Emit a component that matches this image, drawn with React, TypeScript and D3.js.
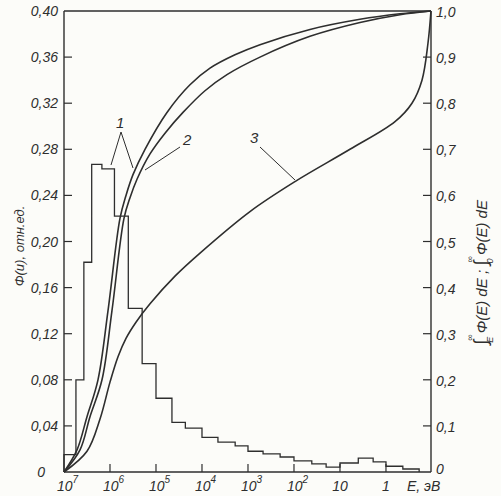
import React from "react";
import * as d3 from "d3";

// histogram bin edges (eV, decreasing) and heights, left axis
const binEdges = [1e7, 5.5e6, 3.7e6, 2.5e6, 1.5e6, 8e5, 4e5, 2e5, 1e5, 4.5e4, 2.3e4, 1e4, 4.5e3, 1.9e3, 1e3, 470, 200, 100, 41, 20, 10, 4, 1.9, 1, 0.43, 0.19];
const binValues = [0.015, 0.08, 0.182, 0.267, 0.263, 0.222, 0.142, 0.094, 0.064, 0.043, 0.038, 0.03, 0.026, 0.0226, 0.018, 0.0157, 0.013, 0.0096, 0.007, 0.0043, 0.0078, 0.012, 0.0087, 0.005, 0.0026];

// cumulative curves: log10(E) and fraction, right axis
const curve1LogE = [7, 6.717, 6.5, 6.261, 6.043, 5.783, 5.652, 5.5, 5.239, 4.761, 4.261, 3.826, 3.283, 2.739, 1.652, 0.565, -0.304, -0.978];
const curve1Val = [0, 0.048, 0.12, 0.2, 0.35, 0.55, 0.6, 0.645, 0.7, 0.78, 0.84, 0.876, 0.905, 0.927, 0.96, 0.982, 0.994, 1.0];
const curve2LogE = [7, 6.652, 6.435, 6.174, 5.957, 5.696, 5.565, 5.413, 5.13, 4.804, 4.413, 3.935, 3.457, 2.739, 1.652, 0.565, -0.304, -0.978];
const curve2Val = [0, 0.048, 0.12, 0.2, 0.35, 0.55, 0.595, 0.635, 0.69, 0.735, 0.78, 0.827, 0.862, 0.9, 0.945, 0.975, 0.992, 1.0];
const curve3LogE = [7, 6.5, 6.217, 6.0, 5.826, 5.652, 5.435, 5.13, 4.587, 4.043, 2.957, 1.978, 0.783, -0.196, -0.565, -0.783, -0.913, -0.978];
const curve3Val = [0, 0.045, 0.115, 0.195, 0.25, 0.29, 0.325, 0.365, 0.425, 0.475, 0.565, 0.63, 0.7, 0.76, 0.8, 0.85, 0.93, 1.0];

const leftTicks = [0, 0.04, 0.08, 0.12, 0.16, 0.2, 0.24, 0.28, 0.32, 0.36, 0.4];
const rightTicks = [0, 0.1, 0.2, 0.3, 0.4, 0.5, 0.6, 0.7, 0.8, 0.9, 1.0];
const xTicks = [1e7, 1e6, 1e5, 1e4, 1e3, 1e2, 10, 1];
const xTickBase = ["10", "10", "10", "10", "10", "10", "10", "1"];
const xTickExp = ["7", "6", "5", "4", "3", "2", "", ""];

const ink = "#2e2e2e";
const fmt = (v: number, d: number) => v === 0 ? "0" : v.toFixed(d).replace(".", ",");

export default function App() {
  const x = d3.scaleLog().domain([1e7, 0.105]).range([64, 431]);
  const yL = d3.scaleLinear().domain([0, 0.4]).range([472, 11]);
  const yR = d3.scaleLinear().domain([0, 1]).range([472, 11]);

  const histPts: [number, number][] = [[x(binEdges[0]), yL(0)]];
  binValues.forEach((v, i) => {
    histPts.push([x(binEdges[i]), yL(v)]);
    histPts.push([x(binEdges[i + 1]), yL(v)]);
  });
  histPts.push([x(binEdges[binEdges.length - 1]), yL(0)]);
  const histPath = d3.line()(histPts) as string;

  const curve = (le: number[], vals: number[]) =>
    d3.line<number>()
      .x((d) => x(Math.pow(10, d)))
      .y((d, i) => yR(vals[i]))
      .curve(d3.curveCatmullRom.alpha(0.5))(le) as string;

  const font = "'Liberation Sans', Arial, sans-serif";

  return (
    <div style={{ position: "absolute", left: 0, top: 0 }}>
      <svg width={501} height={496} style={{ display: "block", background: "#fcfcf9" }} fontFamily={font} fontStyle="italic" fill={ink}>
        {/* frame */}
        <line x1={64} x2={431} y1={11} y2={11} stroke={ink} strokeWidth={1.4} />
        <line x1={64} x2={64} y1={11} y2={472} stroke={ink} strokeWidth={1.4} />
        <line x1={431} x2={431} y1={11} y2={472} stroke={ink} strokeWidth={1.4} />
        <line x1={64} x2={431} y1={472} y2={472} stroke={ink} strokeWidth={1.4} />

        {/* left axis */}
        {leftTicks.map((t) => (
          <g key={"l" + t}>
            {t > 0 && t < 0.4 && <line x1={64} x2={72} y1={yL(t)} y2={yL(t)} stroke={ink} strokeWidth={1.2} />}
            <text x={t === 0 ? 45 : 58} y={yL(t) + 5} fontSize={14} textAnchor="end">{fmt(t, 2)}</text>
          </g>
        ))}
        <text transform="translate(24,246) rotate(-90)" fontSize={13} textAnchor="middle">Φ(u), отн.ед.</text>

        {/* right axis */}
        {rightTicks.map((t) => (
          <g key={"r" + t}>
            {t > 0 && t < 1 && <line x1={423} x2={431} y1={yR(t)} y2={yR(t)} stroke={ink} strokeWidth={1.2} />}
            <text x={436} y={yR(t) + (t === 0 ? 2 : 6)} fontSize={14}>{fmt(t, 1)}</text>
          </g>
        ))}
        <text transform="translate(487,345) rotate(-90)" fontSize={15}>
          <tspan fontSize={19} fontStyle="normal">∫</tspan>
          <tspan fontSize={9} dx={-3} dy={6}>E</tspan>
          <tspan fontSize={9} dx={-4} dy={-20}>∞</tspan>
          <tspan dx={1} dy={14}>Φ(E) dE ; </tspan>
          <tspan fontSize={19} fontStyle="normal">∫</tspan>
          <tspan fontSize={9} dx={-3} dy={6}>0</tspan>
          <tspan fontSize={9} dx={-4} dy={-20}>∞</tspan>
          <tspan dx={1} dy={14}>Φ(E) dE</tspan>
        </text>

        {/* x axis */}
        {xTicks.map((t, i) => (
          <g key={"x" + t}>
            {i > 0 && <line x1={x(t)} x2={x(t)} y1={472} y2={464} stroke={ink} strokeWidth={1.2} />}
            <text x={x(t) + (xTickExp[i] ? -7 : 0)} y={491} fontSize={14} textAnchor={xTickExp[i] ? "start" : "middle"}>
              {xTickBase[i]}
              {xTickExp[i] && <tspan fontSize={10} dy={-8}>{xTickExp[i]}</tspan>}
            </text>
          </g>
        ))}
        <text x={407} y={491} fontSize={14}>E, эВ</text>

        {/* data */}
        <path d={histPath} fill="none" stroke={ink} strokeWidth={1.3} />
        <path d={curve(curve1LogE, curve1Val)} fill="none" stroke={ink} strokeWidth={1.6} />
        <path d={curve(curve2LogE, curve2Val)} fill="none" stroke={ink} strokeWidth={1.6} />
        <path d={curve(curve3LogE, curve3Val)} fill="none" stroke={ink} strokeWidth={1.6} />

        {/* callouts */}
        <polyline points="111,165 121,132 133,168" fill="none" stroke={ink} strokeWidth={1} />
        <text x={116} y={128} fontSize={15}>1</text>
        <line x1={180} y1={147} x2={145} y2={170} stroke={ink} strokeWidth={1} />
        <text x={183} y={145} fontSize={15}>2</text>
        <line x1={260} y1={147} x2={295} y2={180} stroke={ink} strokeWidth={1} />
        <text x={250} y={143} fontSize={15}>3</text>
      </svg>
    </div>
  );
}
